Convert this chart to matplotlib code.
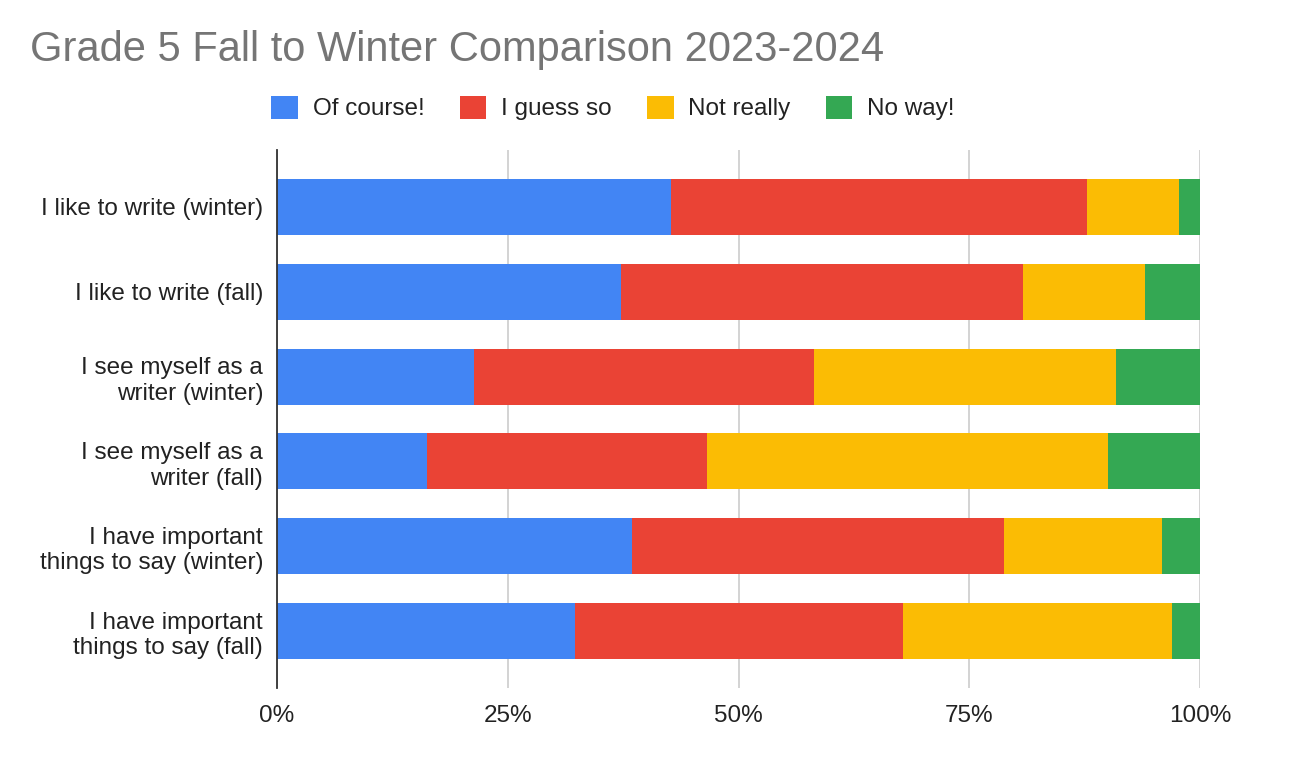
import matplotlib
matplotlib.use("Agg")
import matplotlib.pyplot as plt
from matplotlib.patches import Patch
import numpy as np

plt.rcParams['font.family'] = ['Liberation Sans', 'DejaVu Sans']

categories = [
    "I like to write (winter)",
    "I like to write (fall)",
    "I see myself as a\nwriter (winter)",
    "I see myself as a\nwriter (fall)",
    "I have important\nthings to say (winter)",
    "I have important\nthings to say (fall)",
]
series_names = ["Of course!", "I guess so", "Not really", "No way!"]
of_course = [42.7, 37.3, 21.3, 16.2, 38.5, 32.3]
i_guess_so = [45.1, 43.5, 36.9, 30.4, 40.3, 35.5]
not_really = [9.9, 13.2, 32.7, 43.4, 17.1, 29.2]
no_way = [2.3, 6.0, 9.1, 10.0, 4.1, 3.0]
colors = ["#4285F4", "#EA4335", "#FBBC04", "#34A853"]
tick_vals = [0, 25, 50, 75, 100]
tick_labels = ["0%", "25%", "50%", "75%", "100%"]

fig = plt.figure(figsize=(12.98, 7.74), dpi=100)
ax = fig.add_axes([277/1298, 1-688/774, (1200-277)/1298, (688-150)/774])

series = [of_course, i_guess_so, not_really, no_way]
y = np.arange(len(categories))
left = np.zeros(len(categories))
for vals, c in zip(series, colors):
    vals = np.array(vals)
    ax.barh(y, vals, left=left, height=0.66, color=c, edgecolor='none', zorder=3)
    left += vals

ax.set_xlim(0, 100)
ax.set_ylim(5 + 0.672, -0.672)
ax.set_yticks(y)
ax.set_yticklabels(categories, fontsize=17.5, linespacing=1.22, color='#222222')
ax.set_xticks(tick_vals)
ax.set_xticklabels(tick_labels, fontsize=17.5, color='#222222')
ax.tick_params(axis='both', length=0)
ax.tick_params(axis='y', pad=10)
ax.tick_params(axis='x', pad=12)
for lbl in ax.get_yticklabels():
    lbl.set_horizontalalignment('right')
ax.grid(axis='x', color='#cccccc', linewidth=1.2, zorder=0)
ax.set_axisbelow(True)
for s in ['top', 'right', 'bottom']:
    ax.spines[s].set_visible(False)
ax.spines['left'].set_color('#333333')
ax.spines['left'].set_linewidth(1.3)
ax.spines['left'].set_zorder(4)

fig.text(30/1298, 1-50/774, "Grade 5 Fall to Winter Comparison 2023-2024",
         fontsize=30, color='#757575', ha='left', va='center')

handles = [Patch(facecolor=c, edgecolor='none', label=n) for c, n in zip(colors, series_names)]
fig.legend(handles=handles, loc='center', bbox_to_anchor=(613/1298, 1-108/774), ncol=4,
           frameon=False, fontsize=17.5, handlelength=1.1, handleheight=1.1,
           handletextpad=0.6, columnspacing=1.45, labelcolor='#222222')

fig.savefig("out.png", dpi=100)
